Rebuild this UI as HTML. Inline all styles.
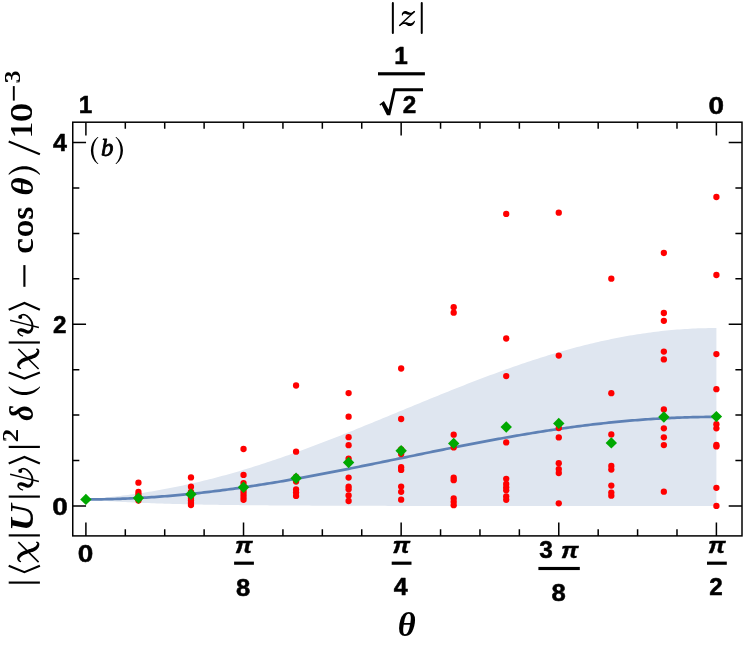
<!DOCTYPE html>
<html lang="en"><head><meta charset="utf-8"><title>Plot (b)</title><style>
html,body{margin:0;padding:0;background:#fff}
svg{display:block;will-change:transform}
text{font-size:100px;fill:#000}
.sb{font-family:"Liberation Sans",sans-serif;font-weight:bold}
.sbi{font-family:"Liberation Sans",sans-serif;font-weight:bold;font-style:italic}
.rb{font-family:"Liberation Serif",serif;font-weight:bold}
.rbi{font-family:"Liberation Serif",serif;font-weight:bold;font-style:italic}
.ri{font-family:"Liberation Serif",serif;font-style:italic}
.rr{font-family:"Liberation Serif",serif}
</style></head>
<body>
<svg width="747" height="649" viewBox="0 0 747 649">
<rect width="747" height="649" fill="#fff"/>
<path fill="#dfe6f0" d="M85.90 499.40 L88.53 499.18 L91.15 498.96 L93.78 498.72 L96.41 498.48 L99.04 498.23 L101.66 497.97 L104.29 497.71 L106.92 497.43 L109.54 497.15 L112.17 496.86 L114.80 496.56 L117.43 496.26 L120.05 495.94 L122.68 495.61 L125.31 495.28 L127.93 494.94 L130.56 494.58 L133.19 494.22 L135.81 493.85 L138.44 493.47 L141.07 493.07 L143.70 492.67 L146.32 492.26 L148.95 491.84 L151.58 491.41 L154.20 490.97 L156.83 490.52 L159.46 490.05 L162.09 489.58 L164.71 489.10 L167.34 488.61 L169.97 488.10 L172.59 487.59 L175.22 487.07 L177.85 486.53 L180.48 485.99 L183.10 485.43 L185.73 484.87 L188.36 484.29 L190.98 483.70 L193.61 483.11 L196.24 482.50 L198.86 481.88 L201.49 481.25 L204.12 480.61 L206.75 479.96 L209.37 479.31 L212.00 478.64 L214.63 477.96 L217.25 477.27 L219.88 476.57 L222.51 475.86 L225.14 475.14 L227.76 474.41 L230.39 473.67 L233.02 472.93 L235.64 472.17 L238.27 471.40 L240.90 470.63 L243.52 469.84 L246.15 469.05 L248.78 468.24 L251.41 467.43 L254.03 466.61 L256.66 465.78 L259.29 464.94 L261.91 464.09 L264.54 463.24 L267.17 462.37 L269.80 461.50 L272.42 460.62 L275.05 459.73 L277.68 458.84 L280.30 457.93 L282.93 457.02 L285.56 456.10 L288.19 455.18 L290.81 454.25 L293.44 453.31 L296.07 452.36 L298.69 451.41 L301.32 450.45 L303.95 449.48 L306.58 448.51 L309.20 447.53 L311.83 446.55 L314.46 445.56 L317.08 444.56 L319.71 443.56 L322.34 442.55 L324.96 441.54 L327.59 440.53 L330.22 439.50 L332.85 438.48 L335.47 437.45 L338.10 436.41 L340.73 435.38 L343.35 434.33 L345.98 433.29 L348.61 432.24 L351.24 431.18 L353.86 430.13 L356.49 429.07 L359.12 428.00 L361.74 426.94 L364.37 425.87 L367.00 424.80 L369.62 423.73 L372.25 422.65 L374.88 421.58 L377.51 420.50 L380.13 419.42 L382.76 418.34 L385.39 417.25 L388.01 416.17 L390.64 415.09 L393.27 414.00 L395.90 412.92 L398.52 411.83 L401.15 410.75 L403.78 409.66 L406.40 408.58 L409.03 407.49 L411.66 406.41 L414.29 405.33 L416.91 404.24 L419.54 403.16 L422.17 402.08 L424.79 401.01 L427.42 399.93 L430.05 398.86 L432.68 397.78 L435.30 396.71 L437.93 395.65 L440.56 394.58 L443.18 393.52 L445.81 392.46 L448.44 391.41 L451.06 390.36 L453.69 389.31 L456.32 388.26 L458.95 387.22 L461.57 386.18 L464.20 385.15 L466.83 384.12 L469.45 383.10 L472.08 382.08 L474.71 381.07 L477.34 380.06 L479.96 379.06 L482.59 378.06 L485.22 377.07 L487.84 376.08 L490.47 375.10 L493.10 374.13 L495.73 373.16 L498.35 372.20 L500.98 371.24 L503.61 370.29 L506.23 369.35 L508.86 368.42 L511.49 367.49 L514.11 366.57 L516.74 365.66 L519.37 364.76 L522.00 363.86 L524.62 362.97 L527.25 362.09 L529.88 361.22 L532.50 360.36 L535.13 359.50 L537.76 358.66 L540.39 357.82 L543.01 356.99 L545.64 356.18 L548.27 355.37 L550.89 354.57 L553.52 353.78 L556.15 353.00 L558.77 352.23 L561.40 351.47 L564.03 350.72 L566.66 349.98 L569.28 349.25 L571.91 348.53 L574.54 347.82 L577.16 347.12 L579.79 346.44 L582.42 345.76 L585.05 345.10 L587.67 344.44 L590.30 343.80 L592.93 343.17 L595.55 342.55 L598.18 341.95 L600.81 341.35 L603.44 340.77 L606.06 340.20 L608.69 339.64 L611.32 339.09 L613.94 338.56 L616.57 338.03 L619.20 337.52 L621.83 337.03 L624.45 336.54 L627.08 336.07 L629.71 335.61 L632.33 335.16 L634.96 334.73 L637.59 334.31 L640.21 333.90 L642.84 333.51 L645.47 333.13 L648.10 332.76 L650.72 332.41 L653.35 332.06 L655.98 331.74 L658.60 331.42 L661.23 331.12 L663.86 330.84 L666.49 330.56 L669.11 330.30 L671.74 330.06 L674.37 329.83 L676.99 329.61 L679.62 329.40 L682.25 329.21 L684.88 329.04 L687.50 328.88 L690.13 328.73 L692.76 328.59 L695.38 328.47 L698.01 328.37 L700.64 328.28 L703.26 328.20 L705.89 328.13 L708.52 328.08 L711.15 328.05 L713.77 328.03 L716.40 328.02 L716.40 506.12 L713.77 506.12 L711.15 506.12 L708.52 506.12 L705.89 506.12 L703.26 506.12 L700.64 506.12 L698.01 506.12 L695.38 506.12 L692.76 506.12 L690.13 506.12 L687.50 506.12 L684.88 506.12 L682.25 506.12 L679.62 506.12 L676.99 506.12 L674.37 506.12 L671.74 506.12 L669.11 506.12 L666.49 506.12 L663.86 506.12 L661.23 506.11 L658.60 506.11 L655.98 506.11 L653.35 506.11 L650.72 506.11 L648.10 506.11 L645.47 506.11 L642.84 506.11 L640.21 506.11 L637.59 506.11 L634.96 506.11 L632.33 506.11 L629.71 506.11 L627.08 506.11 L624.45 506.11 L621.83 506.11 L619.20 506.11 L616.57 506.10 L613.94 506.10 L611.32 506.10 L608.69 506.10 L606.06 506.10 L603.44 506.10 L600.81 506.10 L598.18 506.10 L595.55 506.10 L592.93 506.10 L590.30 506.10 L587.67 506.09 L585.05 506.09 L582.42 506.09 L579.79 506.09 L577.16 506.09 L574.54 506.09 L571.91 506.09 L569.28 506.09 L566.66 506.08 L564.03 506.08 L561.40 506.08 L558.77 506.08 L556.15 506.08 L553.52 506.08 L550.89 506.08 L548.27 506.07 L545.64 506.07 L543.01 506.07 L540.39 506.07 L537.76 506.07 L535.13 506.07 L532.50 506.06 L529.88 506.06 L527.25 506.06 L524.62 506.06 L522.00 506.06 L519.37 506.06 L516.74 506.05 L514.11 506.05 L511.49 506.05 L508.86 506.05 L506.23 506.04 L503.61 506.04 L500.98 506.04 L498.35 506.04 L495.73 506.04 L493.10 506.03 L490.47 506.03 L487.84 506.03 L485.22 506.03 L482.59 506.02 L479.96 506.02 L477.34 506.02 L474.71 506.02 L472.08 506.01 L469.45 506.01 L466.83 506.01 L464.20 506.00 L461.57 506.00 L458.95 506.00 L456.32 505.99 L453.69 505.99 L451.06 505.99 L448.44 505.98 L445.81 505.98 L443.18 505.98 L440.56 505.97 L437.93 505.97 L435.30 505.97 L432.68 505.96 L430.05 505.96 L427.42 505.95 L424.79 505.95 L422.17 505.94 L419.54 505.94 L416.91 505.94 L414.29 505.93 L411.66 505.93 L409.03 505.92 L406.40 505.92 L403.78 505.91 L401.15 505.91 L398.52 505.90 L395.90 505.90 L393.27 505.89 L390.64 505.88 L388.01 505.88 L385.39 505.87 L382.76 505.87 L380.13 505.86 L377.51 505.85 L374.88 505.85 L372.25 505.84 L369.62 505.83 L367.00 505.83 L364.37 505.82 L361.74 505.81 L359.12 505.81 L356.49 505.80 L353.86 505.79 L351.24 505.78 L348.61 505.77 L345.98 505.76 L343.35 505.76 L340.73 505.75 L338.10 505.74 L335.47 505.73 L332.85 505.72 L330.22 505.71 L327.59 505.70 L324.96 505.69 L322.34 505.68 L319.71 505.67 L317.08 505.66 L314.46 505.64 L311.83 505.63 L309.20 505.62 L306.58 505.61 L303.95 505.59 L301.32 505.58 L298.69 505.57 L296.07 505.55 L293.44 505.54 L290.81 505.52 L288.19 505.51 L285.56 505.49 L282.93 505.47 L280.30 505.46 L277.68 505.44 L275.05 505.42 L272.42 505.40 L269.80 505.39 L267.17 505.37 L264.54 505.35 L261.91 505.32 L259.29 505.30 L256.66 505.28 L254.03 505.26 L251.41 505.23 L248.78 505.21 L246.15 505.19 L243.52 505.16 L240.90 505.13 L238.27 505.11 L235.64 505.08 L233.02 505.05 L230.39 505.02 L227.76 504.99 L225.14 504.95 L222.51 504.92 L219.88 504.88 L217.25 504.85 L214.63 504.81 L212.00 504.77 L209.37 504.73 L206.75 504.69 L204.12 504.64 L201.49 504.59 L198.86 504.54 L196.24 504.48 L193.61 504.42 L190.98 504.37 L188.36 504.30 L185.73 504.24 L183.10 504.18 L180.48 504.11 L177.85 504.04 L175.22 503.97 L172.59 503.90 L169.97 503.82 L167.34 503.74 L164.71 503.66 L162.09 503.58 L159.46 503.49 L156.83 503.40 L154.20 503.31 L151.58 503.22 L148.95 503.12 L146.32 503.01 L143.70 502.91 L141.07 502.80 L138.44 502.69 L135.81 502.57 L133.19 502.45 L130.56 502.32 L127.93 502.19 L125.31 502.06 L122.68 501.92 L120.05 501.78 L117.43 501.63 L114.80 501.47 L112.17 501.32 L109.54 501.15 L106.92 500.98 L104.29 500.81 L101.66 500.62 L99.04 500.44 L96.41 500.24 L93.78 500.04 L91.15 499.84 L88.53 499.62 L85.90 499.40 Z"/>
<path fill="none" stroke="#5e81b5" stroke-width="2.7" stroke-linejoin="round" d="M85.90 499.40 L88.53 499.40 L91.15 499.39 L93.78 499.37 L96.41 499.35 L99.04 499.31 L101.66 499.28 L104.29 499.23 L106.92 499.18 L109.54 499.12 L112.17 499.05 L114.80 498.98 L117.43 498.89 L120.05 498.81 L122.68 498.71 L125.31 498.61 L127.93 498.50 L130.56 498.39 L133.19 498.26 L135.81 498.13 L138.44 498.00 L141.07 497.85 L143.70 497.70 L146.32 497.55 L148.95 497.38 L151.58 497.21 L154.20 497.04 L156.83 496.85 L159.46 496.66 L162.09 496.47 L164.71 496.26 L167.34 496.05 L169.97 495.84 L172.59 495.61 L175.22 495.38 L177.85 495.15 L180.48 494.91 L183.10 494.66 L185.73 494.40 L188.36 494.14 L190.98 493.88 L193.61 493.60 L196.24 493.32 L198.86 493.04 L201.49 492.75 L204.12 492.45 L206.75 492.15 L209.37 491.84 L212.00 491.52 L214.63 491.20 L217.25 490.88 L219.88 490.55 L222.51 490.21 L225.14 489.87 L227.76 489.52 L230.39 489.16 L233.02 488.81 L235.64 488.44 L238.27 488.07 L240.90 487.70 L243.52 487.32 L246.15 486.93 L248.78 486.54 L251.41 486.15 L254.03 485.75 L256.66 485.35 L259.29 484.94 L261.91 484.53 L264.54 484.11 L267.17 483.69 L269.80 483.26 L272.42 482.83 L275.05 482.40 L277.68 481.96 L280.30 481.51 L282.93 481.07 L285.56 480.62 L288.19 480.16 L290.81 479.70 L293.44 479.24 L296.07 478.77 L298.69 478.30 L301.32 477.83 L303.95 477.36 L306.58 476.88 L309.20 476.39 L311.83 475.91 L314.46 475.42 L317.08 474.93 L319.71 474.43 L322.34 473.93 L324.96 473.43 L327.59 472.93 L330.22 472.43 L332.85 471.92 L335.47 471.41 L338.10 470.89 L340.73 470.38 L343.35 469.86 L345.98 469.34 L348.61 468.82 L351.24 468.30 L353.86 467.78 L356.49 467.25 L359.12 466.72 L361.74 466.19 L364.37 465.66 L367.00 465.13 L369.62 464.60 L372.25 464.07 L374.88 463.53 L377.51 462.99 L380.13 462.46 L382.76 461.92 L385.39 461.38 L388.01 460.84 L390.64 460.30 L393.27 459.76 L395.90 459.23 L398.52 458.69 L401.15 458.15 L403.78 457.61 L406.40 457.07 L409.03 456.53 L411.66 455.99 L414.29 455.45 L416.91 454.91 L419.54 454.37 L422.17 453.83 L424.79 453.30 L427.42 452.76 L430.05 452.23 L432.68 451.69 L435.30 451.16 L437.93 450.63 L440.56 450.10 L443.18 449.57 L445.81 449.04 L448.44 448.51 L451.06 447.99 L453.69 447.47 L456.32 446.95 L458.95 446.43 L461.57 445.91 L464.20 445.40 L466.83 444.88 L469.45 444.37 L472.08 443.87 L474.71 443.36 L477.34 442.86 L479.96 442.36 L482.59 441.86 L485.22 441.36 L487.84 440.87 L490.47 440.38 L493.10 439.90 L495.73 439.41 L498.35 438.94 L500.98 438.46 L503.61 437.99 L506.23 437.52 L508.86 437.05 L511.49 436.59 L514.11 436.13 L516.74 435.67 L519.37 435.22 L522.00 434.78 L524.62 434.33 L527.25 433.89 L529.88 433.46 L532.50 433.03 L535.13 432.60 L537.76 432.18 L540.39 431.76 L543.01 431.35 L545.64 430.94 L548.27 430.54 L550.89 430.14 L553.52 429.75 L556.15 429.36 L558.77 428.97 L561.40 428.59 L564.03 428.22 L566.66 427.85 L569.28 427.49 L571.91 427.13 L574.54 426.77 L577.16 426.42 L579.79 426.08 L582.42 425.75 L585.05 425.41 L587.67 425.09 L590.30 424.77 L592.93 424.45 L595.55 424.14 L598.18 423.84 L600.81 423.54 L603.44 423.25 L606.06 422.97 L608.69 422.69 L611.32 422.42 L613.94 422.15 L616.57 421.89 L619.20 421.63 L621.83 421.38 L624.45 421.14 L627.08 420.91 L629.71 420.68 L632.33 420.45 L634.96 420.24 L637.59 420.03 L640.21 419.83 L642.84 419.63 L645.47 419.44 L648.10 419.25 L650.72 419.08 L653.35 418.91 L655.98 418.74 L658.60 418.59 L661.23 418.44 L663.86 418.29 L666.49 418.16 L669.11 418.03 L671.74 417.91 L674.37 417.79 L676.99 417.68 L679.62 417.58 L682.25 417.48 L684.88 417.40 L687.50 417.31 L690.13 417.24 L692.76 417.17 L695.38 417.11 L698.01 417.06 L700.64 417.02 L703.26 416.98 L705.89 416.94 L708.52 416.92 L711.15 416.90 L713.77 416.89 L716.40 416.89"/>
<g fill="#ff0000">
<circle cx="138.44" cy="482.70" r="3.15"/>
<circle cx="138.44" cy="492.00" r="3.15"/>
<circle cx="138.44" cy="494.50" r="3.15"/>
<circle cx="138.44" cy="497.00" r="3.15"/>
<circle cx="138.44" cy="499.00" r="3.15"/>
<circle cx="138.44" cy="500.60" r="3.15"/>
<circle cx="190.98" cy="477.40" r="3.15"/>
<circle cx="190.98" cy="486.70" r="3.15"/>
<circle cx="190.98" cy="492.00" r="3.15"/>
<circle cx="190.98" cy="495.00" r="3.15"/>
<circle cx="190.98" cy="498.00" r="3.15"/>
<circle cx="190.98" cy="500.50" r="3.15"/>
<circle cx="190.98" cy="503.00" r="3.15"/>
<circle cx="190.98" cy="505.00" r="3.15"/>
<circle cx="243.53" cy="449.00" r="3.15"/>
<circle cx="243.53" cy="474.90" r="3.15"/>
<circle cx="243.53" cy="483.10" r="3.15"/>
<circle cx="243.53" cy="487.00" r="3.15"/>
<circle cx="243.53" cy="491.00" r="3.15"/>
<circle cx="243.53" cy="494.00" r="3.15"/>
<circle cx="243.53" cy="497.00" r="3.15"/>
<circle cx="243.53" cy="499.80" r="3.15"/>
<circle cx="296.07" cy="385.50" r="3.15"/>
<circle cx="296.07" cy="451.70" r="3.15"/>
<circle cx="296.07" cy="477.00" r="3.15"/>
<circle cx="296.07" cy="481.60" r="3.15"/>
<circle cx="296.07" cy="489.50" r="3.15"/>
<circle cx="296.07" cy="492.60" r="3.15"/>
<circle cx="296.07" cy="495.90" r="3.15"/>
<circle cx="348.61" cy="393.10" r="3.15"/>
<circle cx="348.61" cy="416.70" r="3.15"/>
<circle cx="348.61" cy="437.20" r="3.15"/>
<circle cx="348.61" cy="445.20" r="3.15"/>
<circle cx="348.61" cy="458.60" r="3.15"/>
<circle cx="348.61" cy="477.60" r="3.15"/>
<circle cx="348.61" cy="486.60" r="3.15"/>
<circle cx="348.61" cy="489.20" r="3.15"/>
<circle cx="348.61" cy="495.50" r="3.15"/>
<circle cx="348.61" cy="501.00" r="3.15"/>
<circle cx="401.15" cy="368.50" r="3.15"/>
<circle cx="401.15" cy="419.00" r="3.15"/>
<circle cx="401.15" cy="449.50" r="3.15"/>
<circle cx="401.15" cy="454.00" r="3.15"/>
<circle cx="401.15" cy="467.20" r="3.15"/>
<circle cx="401.15" cy="469.90" r="3.15"/>
<circle cx="401.15" cy="486.60" r="3.15"/>
<circle cx="401.15" cy="491.80" r="3.15"/>
<circle cx="401.15" cy="499.70" r="3.15"/>
<circle cx="453.69" cy="307.20" r="3.15"/>
<circle cx="453.69" cy="312.70" r="3.15"/>
<circle cx="453.69" cy="434.70" r="3.15"/>
<circle cx="453.69" cy="447.40" r="3.15"/>
<circle cx="453.69" cy="477.70" r="3.15"/>
<circle cx="453.69" cy="480.20" r="3.15"/>
<circle cx="453.69" cy="498.50" r="3.15"/>
<circle cx="453.69" cy="501.80" r="3.15"/>
<circle cx="453.69" cy="505.20" r="3.15"/>
<circle cx="506.23" cy="213.90" r="3.15"/>
<circle cx="506.23" cy="338.50" r="3.15"/>
<circle cx="506.23" cy="376.10" r="3.15"/>
<circle cx="506.23" cy="442.40" r="3.15"/>
<circle cx="506.23" cy="478.80" r="3.15"/>
<circle cx="506.23" cy="484.00" r="3.15"/>
<circle cx="506.23" cy="487.30" r="3.15"/>
<circle cx="506.23" cy="490.20" r="3.15"/>
<circle cx="506.23" cy="496.40" r="3.15"/>
<circle cx="506.23" cy="499.80" r="3.15"/>
<circle cx="558.77" cy="212.70" r="3.15"/>
<circle cx="558.77" cy="355.60" r="3.15"/>
<circle cx="558.77" cy="428.00" r="3.15"/>
<circle cx="558.77" cy="437.40" r="3.15"/>
<circle cx="558.77" cy="463.20" r="3.15"/>
<circle cx="558.77" cy="469.10" r="3.15"/>
<circle cx="558.77" cy="473.00" r="3.15"/>
<circle cx="558.77" cy="503.30" r="3.15"/>
<circle cx="611.32" cy="278.70" r="3.15"/>
<circle cx="611.32" cy="393.20" r="3.15"/>
<circle cx="611.32" cy="434.40" r="3.15"/>
<circle cx="611.32" cy="465.90" r="3.15"/>
<circle cx="611.32" cy="469.60" r="3.15"/>
<circle cx="611.32" cy="485.60" r="3.15"/>
<circle cx="611.32" cy="492.60" r="3.15"/>
<circle cx="611.32" cy="495.70" r="3.15"/>
<circle cx="663.86" cy="253.00" r="3.15"/>
<circle cx="663.86" cy="313.00" r="3.15"/>
<circle cx="663.86" cy="320.80" r="3.15"/>
<circle cx="663.86" cy="351.60" r="3.15"/>
<circle cx="663.86" cy="359.40" r="3.15"/>
<circle cx="663.86" cy="409.40" r="3.15"/>
<circle cx="663.86" cy="428.30" r="3.15"/>
<circle cx="663.86" cy="437.30" r="3.15"/>
<circle cx="663.86" cy="445.10" r="3.15"/>
<circle cx="663.86" cy="491.70" r="3.15"/>
<circle cx="716.40" cy="197.00" r="3.15"/>
<circle cx="716.40" cy="275.00" r="3.15"/>
<circle cx="716.40" cy="354.10" r="3.15"/>
<circle cx="716.40" cy="389.20" r="3.15"/>
<circle cx="716.40" cy="424.20" r="3.15"/>
<circle cx="716.40" cy="428.30" r="3.15"/>
<circle cx="716.40" cy="444.90" r="3.15"/>
<circle cx="716.40" cy="446.40" r="3.15"/>
<circle cx="716.40" cy="487.80" r="3.15"/>
<circle cx="716.40" cy="505.90" r="3.15"/>
</g>
<g fill="#00a800">
<path d="M85.90 493.70 L91.60 499.40 L85.90 505.10 L80.20 499.40 Z"/>
<path d="M138.44 492.40 L144.14 498.10 L138.44 503.80 L132.74 498.10 Z"/>
<path d="M190.98 488.60 L196.68 494.30 L190.98 500.00 L185.28 494.30 Z"/>
<path d="M243.53 481.60 L249.22 487.30 L243.53 493.00 L237.83 487.30 Z"/>
<path d="M296.07 472.60 L301.77 478.30 L296.07 484.00 L290.37 478.30 Z"/>
<path d="M348.61 456.80 L354.31 462.50 L348.61 468.20 L342.91 462.50 Z"/>
<path d="M401.15 445.00 L406.85 450.70 L401.15 456.40 L395.45 450.70 Z"/>
<path d="M453.69 437.70 L459.39 443.40 L453.69 449.10 L447.99 443.40 Z"/>
<path d="M506.23 421.30 L511.93 427.00 L506.23 432.70 L500.53 427.00 Z"/>
<path d="M558.77 417.70 L564.48 423.40 L558.77 429.10 L553.07 423.40 Z"/>
<path d="M611.32 437.20 L617.02 442.90 L611.32 448.60 L605.62 442.90 Z"/>
<path d="M663.86 411.30 L669.56 417.00 L663.86 422.70 L658.16 417.00 Z"/>
<path d="M716.40 410.90 L722.10 416.60 L716.40 422.30 L710.70 416.60 Z"/>
</g>
<g stroke="#000" stroke-width="1.5" fill="none" stroke-linecap="butt">
<rect x="72.75" y="122.2" width="669.25" height="413.7"/>
<path d="M85.90 535.9 V522.60 M85.90 122.2 V135.50"/>
<path d="M125.31 535.9 V529.30 M125.31 122.2 V128.80"/>
<path d="M164.71 535.9 V529.30 M164.71 122.2 V128.80"/>
<path d="M204.12 535.9 V529.30 M204.12 122.2 V128.80"/>
<path d="M243.53 535.9 V522.60 M243.53 122.2 V128.80"/>
<path d="M282.93 535.9 V529.30 M282.93 122.2 V128.80"/>
<path d="M322.34 535.9 V529.30 M322.34 122.2 V128.80"/>
<path d="M361.74 535.9 V529.30 M361.74 122.2 V128.80"/>
<path d="M401.15 535.9 V522.60 M401.15 122.2 V135.50"/>
<path d="M440.56 535.9 V529.30 M440.56 122.2 V128.80"/>
<path d="M479.96 535.9 V529.30 M479.96 122.2 V128.80"/>
<path d="M519.37 535.9 V529.30 M519.37 122.2 V128.80"/>
<path d="M558.77 535.9 V522.60 M558.77 122.2 V128.80"/>
<path d="M598.18 535.9 V529.30 M598.18 122.2 V128.80"/>
<path d="M637.59 535.9 V529.30 M637.59 122.2 V128.80"/>
<path d="M676.99 535.9 V529.30 M676.99 122.2 V128.80"/>
<path d="M716.40 535.9 V522.60 M716.40 122.2 V135.50"/>
<path d="M72.75 506.00 H86.05 M742.0 506.00 H728.70"/>
<path d="M72.75 460.56 H79.35 M742.0 460.56 H735.40"/>
<path d="M72.75 415.12 H79.35 M742.0 415.12 H735.40"/>
<path d="M72.75 369.69 H79.35 M742.0 369.69 H735.40"/>
<path d="M72.75 324.25 H86.05 M742.0 324.25 H728.70"/>
<path d="M72.75 278.81 H79.35 M742.0 278.81 H735.40"/>
<path d="M72.75 233.38 H79.35 M742.0 233.38 H735.40"/>
<path d="M72.75 187.94 H79.35 M742.0 187.94 H735.40"/>
<path d="M72.75 142.50 H86.05 M742.0 142.50 H728.70"/>
</g>
<g>
<text class="sb" stroke="#000" stroke-width="2.08" stroke-linejoin="round" transform="matrix(0.2433 0 0 0.2364 78.71 112.95)">1</text>
<text class="sb" stroke="#000" stroke-width="1.93" stroke-linejoin="round" transform="matrix(0.2797 0 0 0.2385 708.54 113.54)">0</text>
<text class="sb" stroke="#000" stroke-width="2.05" stroke-linejoin="round" transform="matrix(0.2504 0 0 0.2364 53.01 150.95)">4</text>
<text class="sb" stroke="#000" stroke-width="2.08" stroke-linejoin="round" transform="matrix(0.2428 0 0 0.2373 53.11 332.70)">2</text>
<text class="sb" stroke="#000" stroke-width="1.93" stroke-linejoin="round" transform="matrix(0.2797 0 0 0.2385 52.34 514.54)">0</text>
<text class="sb" stroke="#000" stroke-width="1.93" stroke-linejoin="round" transform="matrix(0.2797 0 0 0.2385 77.84 561.84)">0</text>
<text class="sbi" stroke="#000" stroke-width="1.72" stroke-linejoin="round" transform="matrix(0.2475 0 0 0.2174 234.99 553.19)">π</text>
<rect x="234.10" y="561.62" width="19.80" height="3.15" fill="#000"/>
<text class="sb" stroke="#000" stroke-width="2.02" stroke-linejoin="round" transform="matrix(0.2568 0 0 0.2385 235.95 595.74)">8</text>
<text class="sbi" stroke="#000" stroke-width="1.72" stroke-linejoin="round" transform="matrix(0.2475 0 0 0.2174 392.59 553.19)">π</text>
<rect x="391.70" y="561.62" width="19.80" height="3.15" fill="#000"/>
<text class="sb" stroke="#000" stroke-width="2.05" stroke-linejoin="round" transform="matrix(0.2504 0 0 0.2364 393.81 595.25)">4</text>
<text class="sb" stroke="#000" stroke-width="2.07" stroke-linejoin="round" transform="matrix(0.2440 0 0 0.2380 539.28 557.90)">3</text>
<text class="sbi" stroke="#000" stroke-width="1.72" stroke-linejoin="round" transform="matrix(0.2475 0 0 0.2174 560.89 557.69)">π</text>
<rect x="538.40" y="566.92" width="41.40" height="3.15" fill="#000"/>
<text class="sb" stroke="#000" stroke-width="2.02" stroke-linejoin="round" transform="matrix(0.2568 0 0 0.2385 551.55 601.34)">8</text>
<text class="sbi" stroke="#000" stroke-width="1.72" stroke-linejoin="round" transform="matrix(0.2475 0 0 0.2174 707.89 553.19)">π</text>
<rect x="707.00" y="561.62" width="19.80" height="3.15" fill="#000"/>
<text class="sb" stroke="#000" stroke-width="2.08" stroke-linejoin="round" transform="matrix(0.2428 0 0 0.2373 709.21 595.25)">2</text>
<text class="sb" stroke="#000" stroke-width="2.08" stroke-linejoin="round" transform="matrix(0.2433 0 0 0.2364 394.21 63.75)">1</text>
<rect x="378.00" y="72.22" width="46.90" height="3.15" fill="#000"/>
<text class="sb" stroke="#000" stroke-width="2.08" stroke-linejoin="round" transform="matrix(0.2428 0 0 0.2373 402.81 113.15)">2</text>
<path fill="#000" d="M379.4 104.5 L383.9 100.9 L388.6 109.6 L393.4 88.3 L423.0 88.3 L423.0 91.2 L395.6 91.2 L390.2 115.3 L387.0 115.3 L381.6 104.6 L380.2 105.7 Z"/>
</g>
<g stroke="#000" stroke-width="2.0" stroke-linecap="round"><path d="M392.85 2.9 V33.0 M421.75 2.9 V33.0"/></g>
<g><title>z</title><path d="M402.80 15.57 L402.84 15.43 L402.87 15.25 L402.91 15.05 L402.96 14.85 L403.01 14.64 L403.08 14.44 L403.15 14.27 L403.24 14.14 L403.33 14.06 L403.41 14.02 L403.54 13.96 L403.71 13.89 L403.91 13.82 L404.12 13.76 L404.34 13.71 L404.56 13.68 L404.77 13.66 L404.95 13.66 L405.11 13.68 L405.21 13.70 L405.28 13.73 L405.41 13.78 L405.60 13.85 L405.83 13.95 L406.10 14.07 L406.41 14.20 L406.73 14.34 L407.09 14.48 L407.47 14.61 L407.84 14.70 L408.16 14.76 L408.46 14.80 L408.76 14.83 L409.07 14.86 L409.39 14.87 L409.72 14.87 L410.05 14.86 L410.39 14.82 L410.73 14.77 L411.07 14.68 L411.41 14.57 L411.73 14.42 L412.03 14.25 L412.31 14.07 L412.58 13.89 L412.83 13.70 L413.06 13.52 L413.27 13.34 L413.47 13.19 L413.65 13.04 L413.84 12.90 L414.03 12.75 L414.21 12.61 L414.37 12.46 L414.52 12.33 L414.66 12.20 L414.78 12.09 L414.89 11.99 L414.97 11.92 L415.04 11.86 L414.26 10.94 L414.18 11.01 L414.08 11.10 L413.97 11.20 L413.85 11.30 L413.73 11.42 L413.59 11.53 L413.44 11.64 L413.29 11.75 L413.12 11.86 L412.95 11.96 L412.74 12.07 L412.51 12.19 L412.28 12.31 L412.03 12.43 L411.79 12.54 L411.55 12.64 L411.32 12.72 L411.10 12.78 L410.90 12.81 L410.73 12.82 L410.56 12.80 L410.38 12.76 L410.19 12.71 L409.99 12.65 L409.78 12.57 L409.56 12.48 L409.32 12.38 L409.07 12.28 L408.80 12.18 L408.56 12.10 L408.35 12.02 L408.13 11.92 L407.87 11.79 L407.58 11.65 L407.26 11.50 L406.91 11.34 L406.53 11.20 L406.12 11.09 L405.67 11.01 L405.19 11.00 L404.75 11.07 L404.35 11.19 L403.98 11.35 L403.65 11.54 L403.34 11.76 L403.06 11.99 L402.81 12.23 L402.58 12.47 L402.38 12.72 L402.19 12.98 L402.02 13.29 L401.92 13.62 L401.86 13.93 L401.84 14.23 L401.84 14.50 L401.85 14.76 L401.87 14.99 L401.89 15.18 L401.90 15.33 L401.90 15.43 Z"/><path d="M414.20 10.77 L406.50 18.02 L398.80 25.27 L399.80 26.33 L407.50 19.08 L415.20 11.83 Z"/><path d="M399.65 26.21 L399.89 26.06 L400.19 25.86 L400.55 25.62 L400.95 25.36 L401.37 25.09 L401.80 24.82 L402.23 24.56 L402.64 24.34 L403.00 24.16 L403.32 24.05 L403.59 23.97 L403.85 23.93 L404.08 23.91 L404.29 23.91 L404.49 23.92 L404.69 23.96 L404.89 24.01 L405.11 24.07 L405.34 24.14 L405.58 24.23 L405.78 24.32 L406.01 24.46 L406.26 24.63 L406.55 24.84 L406.86 25.06 L407.19 25.29 L407.55 25.51 L407.94 25.72 L408.37 25.90 L408.82 26.02 L409.24 26.08 L409.62 26.10 L409.99 26.09 L410.36 26.05 L410.72 25.97 L411.06 25.88 L411.39 25.76 L411.71 25.62 L412.02 25.46 L412.32 25.28 L412.63 25.06 L412.92 24.82 L413.18 24.55 L413.42 24.28 L413.64 24.00 L413.84 23.72 L414.02 23.45 L414.18 23.19 L414.32 22.95 L414.46 22.72 L414.58 22.49 L414.69 22.25 L414.77 22.02 L414.83 21.80 L414.88 21.60 L414.91 21.41 L414.93 21.25 L414.95 21.12 L414.96 21.03 L414.97 20.96 L414.03 20.64 L413.98 20.74 L413.94 20.87 L413.89 21.00 L413.84 21.13 L413.79 21.27 L413.72 21.40 L413.65 21.53 L413.56 21.65 L413.46 21.77 L413.34 21.88 L413.18 22.01 L412.99 22.17 L412.78 22.33 L412.56 22.49 L412.33 22.64 L412.09 22.79 L411.86 22.91 L411.64 23.01 L411.45 23.08 L411.28 23.12 L411.10 23.15 L410.90 23.18 L410.71 23.19 L410.52 23.19 L410.33 23.18 L410.15 23.17 L409.96 23.15 L409.76 23.12 L409.56 23.10 L409.38 23.08 L409.21 23.05 L409.00 23.01 L408.72 22.93 L408.40 22.83 L408.05 22.71 L407.67 22.58 L407.27 22.45 L406.86 22.34 L406.44 22.24 L406.02 22.17 L405.67 22.15 L405.35 22.14 L405.04 22.15 L404.72 22.17 L404.41 22.21 L404.09 22.28 L403.77 22.36 L403.46 22.47 L403.13 22.60 L402.78 22.75 L402.40 22.95 L401.99 23.20 L401.56 23.48 L401.12 23.78 L400.69 24.09 L400.27 24.39 L399.89 24.68 L399.54 24.93 L399.26 25.14 L399.05 25.29 Z"/></g>
<text class="rbi" transform="matrix(0.3449 0 0 0.3272 397.80 636.18)">θ</text>
<text class="ri" stroke="#000" stroke-width="3.20" stroke-linejoin="round" transform="matrix(0.2496 0 0 0.2501 100.97 156.26)">b</text>
<path fill="#000" d="M97.60 137.00 C88.67 143.75 88.67 157.25 97.60 164.00 L98.50 164.00 C91.57 157.25 91.57 143.75 98.50 137.00 Z"/>
<path fill="#000" d="M116.30 137.00 C125.23 143.75 125.23 157.25 116.30 164.00 L115.40 164.00 C122.33 157.25 122.33 143.75 115.40 137.00 Z"/>
<g transform="translate(0 600.0) rotate(-90)">
<g stroke="#000" stroke-width="2.15" fill="none" stroke-linejoin="miter" stroke-miterlimit="10">
<path d="M17.4 8.7 V39.9"/>
<path d="M64.6 8.7 V39.9"/>
<path d="M103.4 8.7 V39.9"/>
<path d="M153.1 8.7 V39.9"/>
<path d="M257.5 8.7 V39.9"/>
<path d="M34.3 8.7 L27.8 24.4 L34.3 39.9"/>
<path d="M136.6 8.7 L143.0 24.4 L136.6 39.9"/>
<path d="M227.4 8.7 L221.4 24.4 L227.4 39.9"/>
<path d="M290.2 8.7 L297.0 24.4 L290.2 39.9"/>
<path d="M313.2 24.4 H334.9"/>
<path d="M445.8 39.9 L458.4 8.7"/>
<path stroke-width="1.9" d="M499.4 13.8 H513.9"/>
</g>
<g transform="translate(37.900000000000006 0)"><title>χ</title><path d="M0.87 21.22 L0.92 21.12 L0.98 21.00 L1.04 20.87 L1.10 20.74 L1.18 20.59 L1.25 20.46 L1.33 20.33 L1.41 20.22 L1.49 20.13 L1.57 20.07 L1.66 20.00 L1.77 19.92 L1.89 19.85 L2.01 19.78 L2.14 19.72 L2.27 19.66 L2.39 19.62 L2.51 19.59 L2.63 19.57 L2.74 19.56 L2.86 19.55 L2.98 19.55 L3.11 19.56 L3.23 19.58 L3.35 19.60 L3.46 19.63 L3.57 19.67 L3.67 19.71 L3.77 19.76 L3.87 19.81 L4.00 19.88 L4.13 19.96 L4.25 20.03 L4.36 20.11 L4.47 20.20 L4.58 20.29 L4.70 20.39 L4.81 20.51 L4.94 20.64 L5.09 20.81 L5.28 21.02 L5.48 21.24 L5.68 21.47 L5.87 21.70 L6.07 21.95 L6.26 22.21 L6.45 22.49 L6.63 22.78 L6.82 23.10 L6.99 23.44 L7.17 23.82 L7.36 24.26 L7.55 24.75 L7.75 25.28 L7.95 25.84 L8.16 26.42 L8.36 27.02 L8.57 27.62 L8.78 28.22 L8.99 28.80 L9.20 29.37 L9.40 29.95 L9.60 30.56 L9.80 31.17 L10.01 31.79 L10.22 32.40 L10.43 33.00 L10.65 33.58 L10.88 34.12 L11.11 34.63 L11.35 35.09 L11.58 35.50 L11.82 35.88 L12.06 36.22 L12.31 36.53 L12.55 36.81 L12.79 37.07 L13.02 37.30 L13.25 37.51 L13.48 37.72 L13.74 37.94 L14.02 38.14 L14.30 38.33 L14.58 38.49 L14.85 38.63 L15.12 38.76 L15.38 38.86 L15.63 38.95 L15.87 39.03 L16.10 39.10 L16.36 39.17 L16.61 39.23 L16.87 39.27 L17.12 39.30 L17.37 39.31 L17.62 39.32 L17.85 39.31 L18.09 39.29 L18.32 39.25 L18.54 39.20 L18.77 39.14 L18.99 39.05 L19.19 38.94 L19.38 38.82 L19.54 38.69 L19.69 38.55 L19.82 38.41 L19.94 38.27 L20.04 38.12 L20.15 37.96 L20.25 37.75 L20.32 37.54 L20.38 37.34 L20.41 37.15 L20.44 36.97 L20.46 36.80 L20.48 36.64 L20.49 36.52 L20.49 36.42 L20.50 36.35 L19.30 36.05 L19.27 36.14 L19.23 36.26 L19.19 36.38 L19.14 36.51 L19.10 36.65 L19.05 36.77 L18.99 36.88 L18.94 36.97 L18.89 37.02 L18.85 37.04 L18.80 37.08 L18.73 37.12 L18.67 37.16 L18.60 37.19 L18.53 37.21 L18.47 37.22 L18.41 37.23 L18.36 37.22 L18.31 37.21 L18.26 37.20 L18.18 37.18 L18.09 37.15 L17.98 37.12 L17.86 37.08 L17.74 37.04 L17.61 36.98 L17.48 36.92 L17.35 36.85 L17.23 36.78 L17.10 36.70 L16.95 36.60 L16.80 36.50 L16.65 36.39 L16.50 36.28 L16.36 36.17 L16.23 36.05 L16.10 35.92 L15.97 35.79 L15.85 35.65 L15.72 35.48 L15.56 35.29 L15.41 35.10 L15.26 34.91 L15.13 34.72 L14.99 34.52 L14.86 34.31 L14.73 34.07 L14.59 33.81 L14.44 33.51 L14.29 33.17 L14.13 32.78 L13.96 32.33 L13.79 31.81 L13.60 31.26 L13.41 30.67 L13.22 30.06 L13.02 29.44 L12.82 28.81 L12.61 28.19 L12.41 27.60 L12.21 27.03 L12.01 26.44 L11.81 25.84 L11.61 25.24 L11.40 24.63 L11.18 24.02 L10.96 23.43 L10.72 22.85 L10.47 22.29 L10.21 21.76 L9.92 21.28 L9.63 20.83 L9.33 20.41 L9.03 20.03 L8.72 19.69 L8.42 19.38 L8.12 19.09 L7.84 18.84 L7.57 18.61 L7.31 18.39 L7.02 18.17 L6.73 17.97 L6.43 17.79 L6.14 17.64 L5.85 17.52 L5.57 17.41 L5.30 17.33 L5.03 17.27 L4.78 17.22 L4.53 17.19 L4.25 17.16 L3.97 17.15 L3.69 17.16 L3.43 17.19 L3.17 17.24 L2.93 17.30 L2.70 17.37 L2.48 17.45 L2.27 17.54 L2.06 17.64 L1.85 17.76 L1.65 17.89 L1.46 18.02 L1.28 18.17 L1.12 18.32 L0.96 18.48 L0.82 18.64 L0.68 18.80 L0.56 18.96 L0.43 19.13 L0.31 19.33 L0.21 19.54 L0.13 19.74 L0.06 19.94 L-0.00 20.13 L-0.05 20.31 L-0.09 20.47 L-0.13 20.60 L-0.15 20.71 L-0.17 20.78 Z"/><path d="M19.40 17.76 L9.43 27.91 L-0.55 38.06 L0.55 39.14 L10.52 28.99 L20.50 18.84 Z"/></g>
<text class="rbi" transform="matrix(0.3745 0 0 0.3388 68.70 32.94)">U</text>
<g transform="translate(109.0 0)"><title>ψ</title><path d="M1.43 23.31 L1.50 23.13 L1.59 22.90 L1.70 22.64 L1.81 22.35 L1.94 22.04 L2.07 21.73 L2.22 21.43 L2.36 21.15 L2.51 20.90 L2.66 20.68 L2.83 20.47 L3.01 20.25 L3.21 20.02 L3.42 19.80 L3.63 19.60 L3.83 19.42 L4.04 19.27 L4.23 19.15 L4.40 19.08 L4.53 19.05 L4.65 19.06 L4.79 19.09 L4.95 19.14 L5.12 19.21 L5.28 19.30 L5.43 19.41 L5.56 19.52 L5.66 19.63 L5.73 19.73 L5.74 19.80 L5.71 19.84 L5.69 19.88 L5.66 19.93 L5.64 20.00 L5.61 20.09 L5.59 20.20 L5.56 20.34 L5.53 20.50 L5.50 20.68 L5.47 20.86 L5.43 21.04 L5.37 21.26 L5.30 21.52 L5.22 21.80 L5.13 22.11 L5.03 22.44 L4.92 22.77 L4.81 23.10 L4.70 23.44 L4.60 23.74 L4.51 24.00 L4.40 24.25 L4.28 24.53 L4.15 24.82 L4.00 25.14 L3.86 25.47 L3.71 25.82 L3.58 26.20 L3.46 26.60 L3.39 27.01 L3.34 27.38 L3.32 27.73 L3.32 28.08 L3.34 28.43 L3.38 28.78 L3.45 29.14 L3.55 29.49 L3.67 29.84 L3.82 30.18 L4.01 30.50 L4.21 30.80 L4.44 31.08 L4.69 31.35 L4.96 31.60 L5.24 31.84 L5.55 32.06 L5.87 32.27 L6.20 32.45 L6.55 32.63 L6.90 32.78 L7.27 32.91 L7.64 33.02 L8.02 33.13 L8.42 33.22 L8.83 33.29 L9.25 33.35 L9.69 33.40 L10.13 33.42 L10.57 33.43 L11.02 33.41 L11.47 33.38 L11.93 33.34 L12.41 33.28 L12.89 33.21 L13.39 33.11 L13.89 33.00 L14.39 32.87 L14.89 32.71 L15.38 32.53 L15.87 32.33 L16.34 32.09 L16.82 31.82 L17.29 31.53 L17.75 31.22 L18.20 30.90 L18.64 30.56 L19.06 30.22 L19.46 29.88 L19.84 29.54 L20.19 29.21 L20.52 28.87 L20.83 28.53 L21.12 28.17 L21.39 27.82 L21.65 27.46 L21.88 27.11 L22.09 26.75 L22.29 26.40 L22.46 26.06 L22.62 25.72 L22.76 25.38 L22.88 25.03 L22.97 24.68 L23.04 24.34 L23.08 24.01 L23.11 23.69 L23.13 23.37 L23.13 23.07 L23.11 22.78 L23.08 22.49 L23.03 22.18 L22.95 21.88 L22.84 21.60 L22.72 21.34 L22.59 21.09 L22.46 20.86 L22.32 20.65 L22.19 20.46 L22.06 20.29 L21.92 20.12 L21.74 19.94 L21.54 19.78 L21.33 19.66 L21.13 19.56 L20.95 19.49 L20.79 19.44 L20.66 19.40 L20.56 19.37 L20.53 19.36 L20.50 19.35 L19.90 21.05 L20.01 21.09 L20.14 21.12 L20.25 21.14 L20.34 21.15 L20.42 21.17 L20.50 21.19 L20.56 21.20 L20.60 21.22 L20.64 21.24 L20.68 21.28 L20.76 21.36 L20.87 21.49 L20.98 21.62 L21.09 21.77 L21.19 21.92 L21.29 22.08 L21.37 22.24 L21.44 22.40 L21.49 22.55 L21.52 22.71 L21.54 22.91 L21.55 23.12 L21.56 23.35 L21.55 23.58 L21.53 23.83 L21.49 24.07 L21.44 24.32 L21.37 24.57 L21.29 24.82 L21.18 25.08 L21.05 25.35 L20.89 25.64 L20.72 25.93 L20.53 26.23 L20.32 26.53 L20.09 26.83 L19.84 27.12 L19.58 27.42 L19.31 27.71 L19.01 27.99 L18.69 28.28 L18.34 28.58 L17.97 28.89 L17.58 29.19 L17.17 29.49 L16.76 29.77 L16.35 30.04 L15.93 30.28 L15.53 30.49 L15.13 30.67 L14.74 30.82 L14.33 30.95 L13.91 31.07 L13.48 31.16 L13.05 31.24 L12.61 31.30 L12.19 31.34 L11.77 31.37 L11.36 31.38 L10.98 31.39 L10.62 31.37 L10.27 31.34 L9.93 31.29 L9.59 31.23 L9.27 31.16 L8.96 31.07 L8.66 30.97 L8.38 30.86 L8.12 30.75 L7.90 30.62 L7.69 30.50 L7.51 30.36 L7.34 30.21 L7.18 30.05 L7.04 29.89 L6.92 29.72 L6.81 29.56 L6.72 29.39 L6.65 29.24 L6.59 29.10 L6.56 28.98 L6.53 28.86 L6.52 28.73 L6.51 28.60 L6.50 28.45 L6.51 28.30 L6.52 28.14 L6.55 27.96 L6.58 27.77 L6.61 27.59 L6.66 27.44 L6.72 27.28 L6.81 27.07 L6.92 26.83 L7.05 26.56 L7.19 26.27 L7.35 25.95 L7.51 25.60 L7.66 25.23 L7.80 24.86 L7.92 24.52 L8.03 24.18 L8.15 23.82 L8.27 23.45 L8.38 23.08 L8.49 22.69 L8.58 22.31 L8.66 21.92 L8.71 21.52 L8.73 21.14 L8.73 20.79 L8.70 20.46 L8.65 20.13 L8.58 19.80 L8.49 19.48 L8.36 19.15 L8.19 18.84 L7.99 18.53 L7.75 18.25 L7.46 18.00 L7.16 17.80 L6.84 17.65 L6.52 17.53 L6.18 17.45 L5.83 17.38 L5.48 17.35 L5.13 17.34 L4.77 17.37 L4.42 17.43 L4.07 17.55 L3.74 17.70 L3.44 17.89 L3.16 18.10 L2.89 18.33 L2.64 18.57 L2.39 18.83 L2.15 19.10 L1.93 19.37 L1.73 19.64 L1.54 19.92 L1.36 20.22 L1.19 20.56 L1.04 20.91 L0.91 21.26 L0.79 21.61 L0.68 21.94 L0.58 22.24 L0.50 22.51 L0.43 22.73 L0.37 22.89 Z"/><circle cx="20.0" cy="20.25" r="2.0"/><path d="M15.91 9.92 L12.38 24.32 L8.86 38.72 L10.34 39.08 L13.87 24.68 L17.39 10.28 Z"/></g>
<text id="g1" class="rr" transform="matrix(0.2470 0 0 0.2250 157.66 17.65)">2</text><use href="#g1" x="1.3"/>
<text class="rbi" transform="matrix(0.3060 0 0 0.3331 179.27 32.72)">δ</text>
<path fill="#000" d="M212.50 8.70 C202.37 16.50 202.37 32.10 212.50 39.90 L213.80 39.90 C205.93 32.10 205.93 16.50 213.80 8.70 Z"/>
<g transform="translate(231.0 0)"><title>χ</title><path d="M0.87 21.22 L0.92 21.12 L0.98 21.00 L1.04 20.87 L1.10 20.74 L1.18 20.59 L1.25 20.46 L1.33 20.33 L1.41 20.22 L1.49 20.13 L1.57 20.07 L1.66 20.00 L1.77 19.92 L1.89 19.85 L2.01 19.78 L2.14 19.72 L2.27 19.66 L2.39 19.62 L2.51 19.59 L2.63 19.57 L2.74 19.56 L2.86 19.55 L2.98 19.55 L3.11 19.56 L3.23 19.58 L3.35 19.60 L3.46 19.63 L3.57 19.67 L3.67 19.71 L3.77 19.76 L3.87 19.81 L4.00 19.88 L4.13 19.96 L4.25 20.03 L4.36 20.11 L4.47 20.20 L4.58 20.29 L4.70 20.39 L4.81 20.51 L4.94 20.64 L5.09 20.81 L5.28 21.02 L5.48 21.24 L5.68 21.47 L5.87 21.70 L6.07 21.95 L6.26 22.21 L6.45 22.49 L6.63 22.78 L6.82 23.10 L6.99 23.44 L7.17 23.82 L7.36 24.26 L7.55 24.75 L7.75 25.28 L7.95 25.84 L8.16 26.42 L8.36 27.02 L8.57 27.62 L8.78 28.22 L8.99 28.80 L9.20 29.37 L9.40 29.95 L9.60 30.56 L9.80 31.17 L10.01 31.79 L10.22 32.40 L10.43 33.00 L10.65 33.58 L10.88 34.12 L11.11 34.63 L11.35 35.09 L11.58 35.50 L11.82 35.88 L12.06 36.22 L12.31 36.53 L12.55 36.81 L12.79 37.07 L13.02 37.30 L13.25 37.51 L13.48 37.72 L13.74 37.94 L14.02 38.14 L14.30 38.33 L14.58 38.49 L14.85 38.63 L15.12 38.76 L15.38 38.86 L15.63 38.95 L15.87 39.03 L16.10 39.10 L16.36 39.17 L16.61 39.23 L16.87 39.27 L17.12 39.30 L17.37 39.31 L17.62 39.32 L17.85 39.31 L18.09 39.29 L18.32 39.25 L18.54 39.20 L18.77 39.14 L18.99 39.05 L19.19 38.94 L19.38 38.82 L19.54 38.69 L19.69 38.55 L19.82 38.41 L19.94 38.27 L20.04 38.12 L20.15 37.96 L20.25 37.75 L20.32 37.54 L20.38 37.34 L20.41 37.15 L20.44 36.97 L20.46 36.80 L20.48 36.64 L20.49 36.52 L20.49 36.42 L20.50 36.35 L19.30 36.05 L19.27 36.14 L19.23 36.26 L19.19 36.38 L19.14 36.51 L19.10 36.65 L19.05 36.77 L18.99 36.88 L18.94 36.97 L18.89 37.02 L18.85 37.04 L18.80 37.08 L18.73 37.12 L18.67 37.16 L18.60 37.19 L18.53 37.21 L18.47 37.22 L18.41 37.23 L18.36 37.22 L18.31 37.21 L18.26 37.20 L18.18 37.18 L18.09 37.15 L17.98 37.12 L17.86 37.08 L17.74 37.04 L17.61 36.98 L17.48 36.92 L17.35 36.85 L17.23 36.78 L17.10 36.70 L16.95 36.60 L16.80 36.50 L16.65 36.39 L16.50 36.28 L16.36 36.17 L16.23 36.05 L16.10 35.92 L15.97 35.79 L15.85 35.65 L15.72 35.48 L15.56 35.29 L15.41 35.10 L15.26 34.91 L15.13 34.72 L14.99 34.52 L14.86 34.31 L14.73 34.07 L14.59 33.81 L14.44 33.51 L14.29 33.17 L14.13 32.78 L13.96 32.33 L13.79 31.81 L13.60 31.26 L13.41 30.67 L13.22 30.06 L13.02 29.44 L12.82 28.81 L12.61 28.19 L12.41 27.60 L12.21 27.03 L12.01 26.44 L11.81 25.84 L11.61 25.24 L11.40 24.63 L11.18 24.02 L10.96 23.43 L10.72 22.85 L10.47 22.29 L10.21 21.76 L9.92 21.28 L9.63 20.83 L9.33 20.41 L9.03 20.03 L8.72 19.69 L8.42 19.38 L8.12 19.09 L7.84 18.84 L7.57 18.61 L7.31 18.39 L7.02 18.17 L6.73 17.97 L6.43 17.79 L6.14 17.64 L5.85 17.52 L5.57 17.41 L5.30 17.33 L5.03 17.27 L4.78 17.22 L4.53 17.19 L4.25 17.16 L3.97 17.15 L3.69 17.16 L3.43 17.19 L3.17 17.24 L2.93 17.30 L2.70 17.37 L2.48 17.45 L2.27 17.54 L2.06 17.64 L1.85 17.76 L1.65 17.89 L1.46 18.02 L1.28 18.17 L1.12 18.32 L0.96 18.48 L0.82 18.64 L0.68 18.80 L0.56 18.96 L0.43 19.13 L0.31 19.33 L0.21 19.54 L0.13 19.74 L0.06 19.94 L-0.00 20.13 L-0.05 20.31 L-0.09 20.47 L-0.13 20.60 L-0.15 20.71 L-0.17 20.78 Z"/><path d="M19.40 17.76 L9.43 27.91 L-0.55 38.06 L0.55 39.14 L10.52 28.99 L20.50 18.84 Z"/></g>
<g transform="translate(263.0 0)"><title>ψ</title><path d="M1.43 23.31 L1.50 23.13 L1.59 22.90 L1.70 22.64 L1.81 22.35 L1.94 22.04 L2.07 21.73 L2.22 21.43 L2.36 21.15 L2.51 20.90 L2.66 20.68 L2.83 20.47 L3.01 20.25 L3.21 20.02 L3.42 19.80 L3.63 19.60 L3.83 19.42 L4.04 19.27 L4.23 19.15 L4.40 19.08 L4.53 19.05 L4.65 19.06 L4.79 19.09 L4.95 19.14 L5.12 19.21 L5.28 19.30 L5.43 19.41 L5.56 19.52 L5.66 19.63 L5.73 19.73 L5.74 19.80 L5.71 19.84 L5.69 19.88 L5.66 19.93 L5.64 20.00 L5.61 20.09 L5.59 20.20 L5.56 20.34 L5.53 20.50 L5.50 20.68 L5.47 20.86 L5.43 21.04 L5.37 21.26 L5.30 21.52 L5.22 21.80 L5.13 22.11 L5.03 22.44 L4.92 22.77 L4.81 23.10 L4.70 23.44 L4.60 23.74 L4.51 24.00 L4.40 24.25 L4.28 24.53 L4.15 24.82 L4.00 25.14 L3.86 25.47 L3.71 25.82 L3.58 26.20 L3.46 26.60 L3.39 27.01 L3.34 27.38 L3.32 27.73 L3.32 28.08 L3.34 28.43 L3.38 28.78 L3.45 29.14 L3.55 29.49 L3.67 29.84 L3.82 30.18 L4.01 30.50 L4.21 30.80 L4.44 31.08 L4.69 31.35 L4.96 31.60 L5.24 31.84 L5.55 32.06 L5.87 32.27 L6.20 32.45 L6.55 32.63 L6.90 32.78 L7.27 32.91 L7.64 33.02 L8.02 33.13 L8.42 33.22 L8.83 33.29 L9.25 33.35 L9.69 33.40 L10.13 33.42 L10.57 33.43 L11.02 33.41 L11.47 33.38 L11.93 33.34 L12.41 33.28 L12.89 33.21 L13.39 33.11 L13.89 33.00 L14.39 32.87 L14.89 32.71 L15.38 32.53 L15.87 32.33 L16.34 32.09 L16.82 31.82 L17.29 31.53 L17.75 31.22 L18.20 30.90 L18.64 30.56 L19.06 30.22 L19.46 29.88 L19.84 29.54 L20.19 29.21 L20.52 28.87 L20.83 28.53 L21.12 28.17 L21.39 27.82 L21.65 27.46 L21.88 27.11 L22.09 26.75 L22.29 26.40 L22.46 26.06 L22.62 25.72 L22.76 25.38 L22.88 25.03 L22.97 24.68 L23.04 24.34 L23.08 24.01 L23.11 23.69 L23.13 23.37 L23.13 23.07 L23.11 22.78 L23.08 22.49 L23.03 22.18 L22.95 21.88 L22.84 21.60 L22.72 21.34 L22.59 21.09 L22.46 20.86 L22.32 20.65 L22.19 20.46 L22.06 20.29 L21.92 20.12 L21.74 19.94 L21.54 19.78 L21.33 19.66 L21.13 19.56 L20.95 19.49 L20.79 19.44 L20.66 19.40 L20.56 19.37 L20.53 19.36 L20.50 19.35 L19.90 21.05 L20.01 21.09 L20.14 21.12 L20.25 21.14 L20.34 21.15 L20.42 21.17 L20.50 21.19 L20.56 21.20 L20.60 21.22 L20.64 21.24 L20.68 21.28 L20.76 21.36 L20.87 21.49 L20.98 21.62 L21.09 21.77 L21.19 21.92 L21.29 22.08 L21.37 22.24 L21.44 22.40 L21.49 22.55 L21.52 22.71 L21.54 22.91 L21.55 23.12 L21.56 23.35 L21.55 23.58 L21.53 23.83 L21.49 24.07 L21.44 24.32 L21.37 24.57 L21.29 24.82 L21.18 25.08 L21.05 25.35 L20.89 25.64 L20.72 25.93 L20.53 26.23 L20.32 26.53 L20.09 26.83 L19.84 27.12 L19.58 27.42 L19.31 27.71 L19.01 27.99 L18.69 28.28 L18.34 28.58 L17.97 28.89 L17.58 29.19 L17.17 29.49 L16.76 29.77 L16.35 30.04 L15.93 30.28 L15.53 30.49 L15.13 30.67 L14.74 30.82 L14.33 30.95 L13.91 31.07 L13.48 31.16 L13.05 31.24 L12.61 31.30 L12.19 31.34 L11.77 31.37 L11.36 31.38 L10.98 31.39 L10.62 31.37 L10.27 31.34 L9.93 31.29 L9.59 31.23 L9.27 31.16 L8.96 31.07 L8.66 30.97 L8.38 30.86 L8.12 30.75 L7.90 30.62 L7.69 30.50 L7.51 30.36 L7.34 30.21 L7.18 30.05 L7.04 29.89 L6.92 29.72 L6.81 29.56 L6.72 29.39 L6.65 29.24 L6.59 29.10 L6.56 28.98 L6.53 28.86 L6.52 28.73 L6.51 28.60 L6.50 28.45 L6.51 28.30 L6.52 28.14 L6.55 27.96 L6.58 27.77 L6.61 27.59 L6.66 27.44 L6.72 27.28 L6.81 27.07 L6.92 26.83 L7.05 26.56 L7.19 26.27 L7.35 25.95 L7.51 25.60 L7.66 25.23 L7.80 24.86 L7.92 24.52 L8.03 24.18 L8.15 23.82 L8.27 23.45 L8.38 23.08 L8.49 22.69 L8.58 22.31 L8.66 21.92 L8.71 21.52 L8.73 21.14 L8.73 20.79 L8.70 20.46 L8.65 20.13 L8.58 19.80 L8.49 19.48 L8.36 19.15 L8.19 18.84 L7.99 18.53 L7.75 18.25 L7.46 18.00 L7.16 17.80 L6.84 17.65 L6.52 17.53 L6.18 17.45 L5.83 17.38 L5.48 17.35 L5.13 17.34 L4.77 17.37 L4.42 17.43 L4.07 17.55 L3.74 17.70 L3.44 17.89 L3.16 18.10 L2.89 18.33 L2.64 18.57 L2.39 18.83 L2.15 19.10 L1.93 19.37 L1.73 19.64 L1.54 19.92 L1.36 20.22 L1.19 20.56 L1.04 20.91 L0.91 21.26 L0.79 21.61 L0.68 21.94 L0.58 22.24 L0.50 22.51 L0.43 22.73 L0.37 22.89 Z"/><circle cx="20.0" cy="20.25" r="2.0"/><path d="M15.91 9.92 L12.38 24.32 L8.86 38.72 L10.34 39.08 L13.87 24.68 L17.39 10.28 Z"/></g>
<text id="g2" class="rr" transform="matrix(0.3280 0 0 0.3077 346.20 32.65)">c</text><use href="#g2" x="1.3"/>
<text id="g3" class="rr" transform="matrix(0.3209 0 0 0.3077 362.83 32.65)">o</text><use href="#g3" x="1.3"/>
<text id="g4" class="rr" transform="matrix(0.3205 0 0 0.3077 379.94 32.65)">s</text><use href="#g4" x="1.3"/>
<text class="rbi" transform="matrix(0.3471 0 0 0.3216 404.45 32.64)">θ</text>
<path fill="#000" d="M426.30 8.70 C436.30 16.50 436.30 32.10 426.30 39.90 L425.00 39.90 C432.73 32.10 432.73 16.50 425.00 8.70 Z"/>
<text id="g5" class="rr" transform="matrix(0.3153 0 0 0.3090 461.48 32.35)">1</text><use href="#g5" x="1.3"/>
<text id="g6" class="rr" transform="matrix(0.3586 0 0 0.3127 477.88 32.34)">0</text><use href="#g6" x="1.3"/>
<text id="g7" class="rr" transform="matrix(0.2324 0 0 0.2218 516.44 19.83)">3</text><use href="#g7" x="1.3"/>
</g>
</svg>
</body></html>
